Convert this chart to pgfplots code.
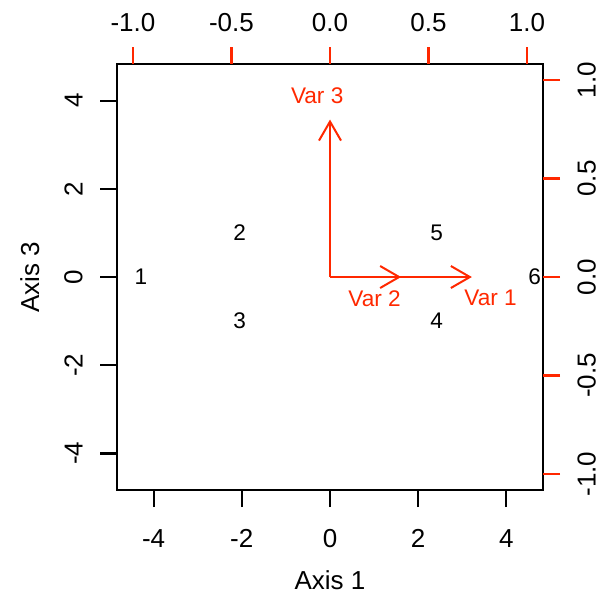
\documentclass[border=0pt]{standalone}
\usepackage{pgfplots}
\pgfplotsset{compat=1.18}
\usepackage{pgfplotstable}
\usetikzlibrary{arrows.meta}
\usepackage{fontspec}
\setmainfont{Liberation Sans}
\definecolor{vred}{RGB}{255,40,0}
\newcommand{\tickfont}{\fontsize{13}{15}\selectfont}
\newcommand{\ptfont}{\fontsize{11.3}{13}\selectfont}
\pgfplotstableread[col sep=comma]{
x,y,lab
-4.29,0,1
-2.05,1,2
-2.05,-1,3
2.42,-1,4
2.42,1,5
4.64,0,6
}\scores
\pgfplotstableread[col sep=comma]{
x,y,lab
0.815,-0.108,Var 1
0.226,-0.108,Var 2
-0.065,0.92,Var 3
}\varlabels
\begin{document}
\begin{tikzpicture}[x=1pt,y=1pt]
\path[use as bounding box] (0,0) rectangle (304,298);
\begin{axis}[
  at={(58.5pt,53pt)}, anchor=south west,
  scale only axis, width=213pt, height=213pt,
  xmin=-4.83, xmax=4.83, ymin=-4.83, ymax=4.83,
  axis line style={line width=1pt, black},
  tick align=outside, major tick length=8.5pt,
  tick style={black, line width=1.1pt},
  tick pos=left,
  xtick={-4,-2,0,2,4}, xticklabels={-4,-2,0,2,4},
  ytick={-4,-2,0,2,4}, yticklabels={-4,-2,0,2,4},
  tick label style={font=\tickfont, inner sep=0pt},
  xticklabel style={anchor=north},
  yticklabel style={rotate=90, anchor=south},
  xticklabel shift=11pt, yticklabel shift=8.5pt,
  xlabel={Axis 1}, ylabel={Axis 3},
  label style={font=\tickfont, inner sep=0pt},
  xlabel style={at={(axis description cs:0.5,-0.2324)}, anchor=base},
  ylabel style={at={(axis description cs:-0.183,0.5)}, rotate=0, anchor=base},
  clip=false,
]
\addplot[draw=none, mark=none, nodes near coords, point meta=explicit symbolic,
  every node near coord/.append style={font=\ptfont, anchor=center, inner sep=0pt, text=black}]
  table[x=x, y=y, meta=lab] {\scores};
\end{axis}
\begin{axis}[
  at={(58.5pt,53pt)}, anchor=south west,
  scale only axis, width=213pt, height=213pt,
  xmin=-1.081, xmax=1.081, ymin=-1.081, ymax=1.081,
  axis line style={draw=none},
  tick align=outside, major tick length=8.5pt,
  tick style={vred, line width=1.1pt},
  tick pos=right,
  xtick={-1,-0.5,0,0.5,1}, xticklabels={-1.0,-0.5,0.0,0.5,1.0},
  ytick={-1,-0.5,0,0.5,1}, yticklabels={-1.0,-0.5,0.0,0.5,1.0},
  tick label style={font=\tickfont, inner sep=0pt},
  xticklabel style={anchor=south},
  yticklabel style={rotate=90, anchor=north},
  xticklabel shift=7.5pt, yticklabel shift=8.5pt,
  clip=false,
]
\addplot[vred, line width=1pt, -{Straight Barb[length=9.5pt, width=11pt, line width=1pt]}] coordinates {(0,0) (0.72,0)};
\addplot[vred, line width=1pt, -{Straight Barb[length=9.5pt, width=11pt, line width=1pt]}] coordinates {(0,0) (0.361,0)};
\addplot[vred, line width=1pt, -{Straight Barb[length=9.5pt, width=11pt, line width=1pt]}] coordinates {(0,0) (0,0.799)};
\addplot[draw=none, mark=none, nodes near coords, point meta=explicit symbolic,
  every node near coord/.append style={font=\ptfont, anchor=center, inner sep=0pt, text=vred}]
  table[x=x, y=y, meta=lab] {\varlabels};
\end{axis}
\end{tikzpicture}
\end{document}
